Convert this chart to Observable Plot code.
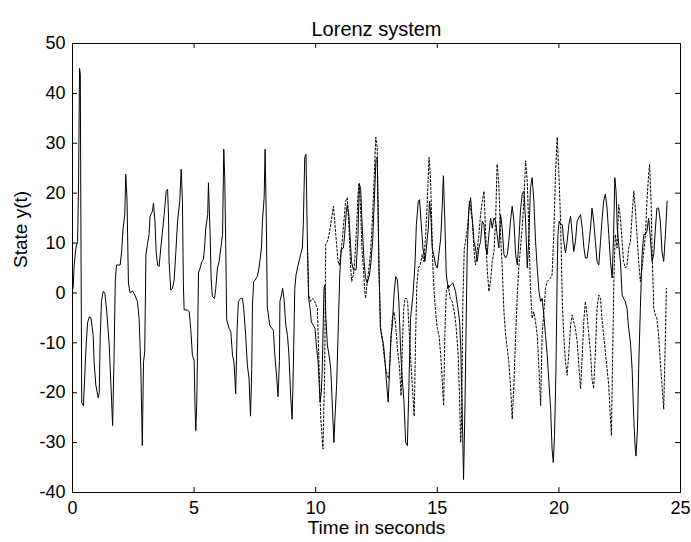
<!DOCTYPE html>
<html>
<head>
<meta charset="utf-8">
<script src="https://cdn.jsdelivr.net/npm/d3@7"></script>
<script src="https://cdn.jsdelivr.net/npm/@observablehq/plot@0.6"></script>
<style>
  html, body { margin: 0; padding: 0; background: #fff; }
  #chart svg { display: block; }
</style>
</head>
<body>
<div id="chart"></div>
<script>
// ---- Data (time in s, state y(t)) ----
const titleText = "Lorenz system";
const xLabel = "Time in seconds";
const yLabel = "State y(t)";
const xTicks = [0, 5, 10, 15, 20, 25];
const yTicks = [-40, -30, -20, -10, 0, 10, 20, 30, 40, 50];

// Common trajectory (both runs coincide until ~9.7 s)
const sharedPath = [
  [0.0,0.5],[0.03,1.3],[0.07,5.6],[0.14,9],[0.21,10.3],[0.25,22.4],[0.29,45],[0.32,44],[0.35,8.7],
  [0.38,-22],[0.45,-22.6],[0.51,-15.9],[0.56,-10.5],[0.62,-6],[0.69,-4.8],[0.76,-5],[0.85,-8.5],
  [0.89,-14],[0.96,-18.5],[1.06,-21],[1.10,-20],[1.14,-8.8],[1.19,-1.7],[1.26,0.3],[1.33,0],
  [1.41,-3.8],[1.51,-10.5],[1.58,-18.5],[1.65,-26.6],[1.71,-12.5],[1.76,2.6],[1.81,5.6],[1.96,5.6],
  [2.02,8.3],[2.08,13],[2.15,15.7],[2.19,23.8],[2.24,19],[2.30,2],[2.37,0],[2.47,0.4],[2.56,-0.4],
  [2.67,-1.7],[2.74,-5.1],[2.81,-15],[2.87,-30.6],[2.92,-13.8],[2.97,-11.8],[3.02,7.6],[3.08,9.7],
  [3.15,11.7],[3.19,15.4],[3.29,16.4],[3.33,18],[3.39,14.4],[3.44,8.3],[3.50,5.6],[3.56,5.3],
  [3.63,9],[3.77,15.7],[3.85,20.4],[3.91,20.8],[3.95,15],[3.97,6.3],[4.04,0.6],[4.11,0.9],
  [4.18,2.6],[4.25,8.3],[4.32,14.4],[4.41,18.4],[4.47,24.8],[4.52,18.4],[4.56,1.6],[4.59,-3.4],
  [4.73,-3.4],[4.80,-3.8],[4.86,-7.1],[4.93,-12.5],[5.00,-13.5],[5.04,-23.3],[5.07,-27.6],
  [5.11,-21.9],[5.15,-7.8],[5.18,4],[5.25,5],[5.32,6.3],[5.38,6.7],[5.43,9],[5.48,13],[5.56,15.7],
  [5.59,22.1],[5.66,11.7],[5.70,3],[5.75,-0.7],[5.84,-1.1],[5.89,0.9],[5.96,5],[6.03,6.3],[6.10,9],
  [6.17,11.7],[6.22,28.8],[6.26,23.1],[6.30,9.7],[6.34,-5.4],[6.44,-7.1],[6.51,-7.8],[6.58,-12.5],
  [6.64,-13.8],[6.71,-20.2],[6.77,-7.1],[6.82,-1.7],[6.92,-1.1],[6.99,-1.1],[7.04,-3.1],[7.12,-8.5],
  [7.19,-14.5],[7.26,-17.2],[7.32,-24.7],[7.37,-15.2],[7.40,-2.4],[7.45,2.3],[7.51,2.6],[7.60,3.3],
  [7.67,5],[7.77,9],[7.81,14.4],[7.88,19.1],[7.92,28.8],[7.97,14.4],[8.01,-2.8],[8.11,-6.5],
  [8.26,-7.5],[8.32,-12.5],[8.40,-17.2],[8.45,-20.8],[8.51,-13.5],[8.53,-1.7],[8.59,-0.4],
  [8.64,0.9],[8.70,-1.4],[8.77,-6.5],[8.84,-8.5],[8.90,-12.5],[8.97,-20.6],[9.03,-25.3],
  [9.08,-15.2],[9.14,0.9],[9.19,3.6],[9.25,5],[9.38,7.7],[9.45,9],[9.49,13.7],[9.55,27.2],
  [9.60,27.8],[9.66,9.7]
];

// Solid run after divergence
const solidPath = [
  [9.71,-1.1],[9.77,-3.1],[9.82,-5.8],[9.90,-6.5],[9.97,-7.1],[10.04,-11.2],[10.10,-13.8],
  [10.18,-21.9],[10.23,-19.9],[10.27,-15.2],[10.34,0.9],[10.38,1.6],[10.42,-5.1],[10.48,-10.5],
  [10.55,-12.5],[10.62,-15.2],[10.69,-23.3],[10.75,-30],[10.79,-25.3],[10.86,-18.5],[10.93,-6.5],
  [10.99,3.6],[11.05,8.7],[11.14,9],[11.19,11.7],[11.26,16.4],[11.30,17.7],[11.36,15.7],
  [11.41,11.7],[11.47,6.3],[11.55,4.6],[11.66,4.6],[11.74,11.7],[11.79,21.8],[11.85,21.0],
  [11.90,14.4],[11.99,6.3],[12.05,3],[12.12,2],[12.21,3.6],[12.26,5.6],[12.34,10.3],[12.42,19.8],
  [12.48,26.8],[12.53,27.2],[12.60,5.6],[12.66,-7.1],[12.71,-8.5],[12.79,-10.5],[12.85,-13.5],
  [12.90,-17.2],[12.98,-21.9],[13.04,-15.2],[13.10,-8.5],[13.15,-6.5],[13.22,-0.4],[13.29,3.3],
  [13.36,2.6],[13.42,-1.7],[13.49,-11.2],[13.56,-17.2],[13.63,-21.9],[13.70,-30],[13.77,-30.6],
  [13.83,-19.2],[13.90,-5.1],[14.00,-0.4],[14.08,5.6],[14.14,13.7],[14.22,18.4],[14.27,18.7],
  [14.33,14.4],[14.41,9],[14.49,6.3],[14.55,9],[14.63,13],[14.68,18.4],[14.74,15],[14.79,9],
  [14.88,7],[14.93,5.6],[15.00,5],[15.14,11],[15.20,17],[15.25,23.5],[15.31,14.4],[15.37,3.6],
  [15.45,0.9],[15.55,1.6],[15.64,2],[15.75,0.3],[15.83,-2.4],[15.92,-5.8],[15.97,-11.8],
  [16.03,-25.3],[16.08,-37.4],[16.14,-21.9],[16.19,-5.1],[16.23,8.3],[16.30,17],[16.37,19.1],
  [16.41,16.4],[16.46,13.7],[16.51,10.3],[16.57,9],[16.64,6.3],[16.71,9],[16.78,10.3],[16.85,14.4],
  [16.92,13.7],[16.99,9],[17.05,7.7],[17.12,11.7],[17.19,15],[17.26,13],[17.33,15],[17.40,14.4],
  [17.46,11.7],[17.53,9],[17.60,15.7],[17.67,13],[17.74,7.7],[17.81,7],[17.88,7.7],[17.94,10.3],
  [18.01,14.4],[18.08,17.4],[18.15,14.4],[18.22,7.7],[18.29,5.6],[18.35,10.3],[18.42,16.4],
  [18.49,19.8],[18.56,20.4],[18.63,14.4],[18.70,5],[18.77,11.7],[18.83,21.1],[18.90,23.1],
  [18.97,18.4],[19.04,10.3],[19.11,5],[19.18,0.3],[19.25,-1.7],[19.31,-1.1],[19.38,-4.4],
  [19.45,-8.5],[19.52,-12.5],[19.59,-17.9],[19.66,-23.3],[19.72,-31.3],[19.77,-34],[19.82,-28.6],
  [19.88,-15.2],[19.93,3.6],[19.96,11.7],[20.01,14.4],[20.07,13.7],[20.14,13.7],[20.20,10.3],
  [20.27,8],[20.34,10.3],[20.41,13.7],[20.48,15.4],[20.55,11.7],[20.61,8.3],[20.68,10.3],
  [20.75,14.4],[20.89,15.7],[20.96,13],[21.03,9],[21.09,7],[21.16,7],[21.23,9.7],[21.30,13],
  [21.36,17],[21.43,14.4],[21.50,10.3],[21.57,6.3],[21.64,5.6],[21.71,10.3],[21.77,14.4],
  [21.84,18.4],[21.91,19.8],[21.98,17],[22.05,11.7],[22.12,6.3],[22.19,3],[22.25,11.7],[22.30,23.1],
  [22.35,20.4],[22.40,13],[22.46,9.7],[22.53,6.3],[22.60,-0.4],[22.66,-1.1],[22.73,-1.7],
  [22.80,-3.1],[22.87,-7.1],[22.94,-9.8],[23.01,-15.2],[23.08,-25.3],[23.14,-31.3],[23.17,-32.7],
  [23.23,-27.3],[23.28,-15.2],[23.35,-3.1],[23.42,7.7],[23.49,11.7],[23.56,11.7],[23.62,12.4],
  [23.69,15],[23.76,11],[23.83,6.3],[23.90,7.7],[23.97,13],[24.03,17],[24.10,17],[24.17,14.4],
  [24.24,8.3],[24.31,6.3],[24.38,11.7],[24.45,18.4]
];

// Dotted run after divergence
const dottedPath = [
  [9.66,9.7],[9.71,-0.4],[9.79,-1.7],[9.88,-1.1],[9.96,-1.7],[10.07,-3.1],[10.14,-15.2],[10.21,-25.3],
  [10.30,-31.3],[10.37,-15.2],[10.41,9.7],[10.48,10.3],[10.55,11.7],[10.64,14.4],[10.73,17.4],
  [10.78,14.4],[10.85,10.3],[10.92,6.3],[10.97,5.6],[11.03,7.7],[11.10,11],[11.16,14.4],
  [11.23,18.4],[11.30,19.1],[11.37,13],[11.44,5],[11.48,2.3],[11.55,3.6],[11.60,6.3],[11.68,13],
  [11.74,19.8],[11.79,22.1],[11.85,16.4],[11.90,9],[11.96,5],[12.01,0.9],[12.05,-1.1],[12.12,2.3],
  [12.19,5],[12.26,8.3],[12.33,14.4],[12.40,22.4],[12.47,31.2],[12.53,29.2],[12.60,5],[12.67,-7.1],
  [12.74,-9.1],[12.81,-12.5],[12.88,-15.2],[12.94,-16.5],[13.01,-17.2],[13.08,-10.5],[13.15,-5.1],
  [13.22,-3.8],[13.29,-6.5],[13.36,-11.2],[13.45,-15.2],[13.51,-20.6],[13.56,-11.2],[13.62,-3.1],
  [13.67,-1.1],[13.73,-1.1],[13.78,-1.7],[13.83,-6.5],[13.90,-12.5],[13.97,-18.5],[14.05,-24.7],
  [14.11,-8.5],[14.16,1.6],[14.22,5],[14.30,5.6],[14.38,7.7],[14.45,6.3],[14.52,11.7],[14.59,18.4],
  [14.66,27.2],[14.72,23.1],[14.77,14.4],[14.82,5],[14.87,0.3],[14.93,-3.8],[15.00,-7.1],
  [15.07,-8.5],[15.14,-12.5],[15.20,-17.2],[15.26,-22.6],[15.31,-8.5],[15.37,0.3],[15.45,1.6],
  [15.53,-1.1],[15.61,-1.7],[15.70,-3.8],[15.78,-7.1],[15.86,-12.5],[15.92,-21.9],[15.96,-30],
  [16.00,-25.3],[16.05,-1.7],[16.11,9],[16.16,10.3],[16.24,13],[16.33,18.4],[16.38,16.4],
  [16.44,14.4],[16.52,7.7],[16.57,5.6],[16.64,8.3],[16.71,11.7],[16.78,15.7],[16.85,18.4],
  [16.92,20.4],[16.99,11.7],[17.05,5],[17.12,0.3],[17.19,2.3],[17.26,6.3],[17.33,8.3],[17.40,15],
  [17.46,25.8],[17.53,21.8],[17.60,11.7],[17.67,5],[17.74,-3.8],[17.81,-8.5],[17.88,-11.2],
  [17.94,-13.8],[18.01,-18.5],[18.08,-25.3],[18.15,-18.5],[18.22,-8.5],[18.29,-0.4],[18.35,5],
  [18.42,9],[18.49,13],[18.56,18.4],[18.63,26.5],[18.70,22.4],[18.77,11.7],[18.83,0.9],[18.90,-5.1],
  [18.97,-3.8],[19.04,-5.8],[19.11,-8.5],[19.18,-15.2],[19.25,-22.6],[19.31,-8.5],[19.38,-3.8],
  [19.45,0.9],[19.52,2.3],[19.66,3],[19.72,3.6],[19.79,11.7],[19.86,23.8],[19.93,31.2],[19.99,25.1],
  [20.07,14.4],[20.14,-1.7],[20.20,-8.5],[20.27,-13.8],[20.34,-16.5],[20.41,-11.8],[20.48,-6.5],
  [20.55,-4.4],[20.61,-5.8],[20.68,-7.1],[20.75,-9.8],[20.82,-14.5],[20.89,-19.2],[20.96,-12.5],
  [21.03,-5.1],[21.09,-1.7],[21.16,-4.5],[21.23,-8.5],[21.30,-11.8],[21.36,-17.2],[21.43,-19.2],
  [21.50,-11.8],[21.57,-3.1],[21.64,-0.4],[21.71,-1.1],[21.77,-5.1],[21.84,-8.5],[21.91,-11.8],
  [21.98,-15.2],[22.05,-18.5],[22.12,-25.3],[22.16,-28.6],[22.21,-12.5],[22.27,5],[22.32,11.7],
  [22.39,9],[22.46,17.7],[22.53,15],[22.60,10.3],[22.66,6.3],[22.73,5],[22.80,5.6],[22.87,9],
  [22.94,10.3],[23.01,15.7],[23.08,20.4],[23.14,17],[23.21,11.7],[23.28,6.3],[23.35,2.3],
  [23.42,5],[23.49,8.3],[23.56,11.7],[23.62,18.4],[23.69,23.8],[23.73,25.8],[23.79,18.4],
  [23.83,9],[23.90,-3.1],[23.97,-4.5],[24.03,-5.1],[24.10,-8.5],[24.17,-13.8],[24.24,-18.5],
  [24.31,-23.3],[24.38,-8.5],[24.42,0.9]
];

// ---- Build tables ----
const toRows = (arr) => arr.map(([t, y]) => ({t, y}));
const solidRows = toRows(sharedPath.concat(solidPath));
const dottedRows = toRows(dottedPath);

const [xMin, xMax] = d3.extent(xTicks);
const [yMin, yMax] = d3.extent(yTicks);
const xTickLen = (xMax - xMin) * 0.0082;  // ~5px inward in data units
const yTickLen = (yMax - yMin) * 0.011;

const font = "'Liberation Sans', Arial, Helvetica, sans-serif";
const plainFormat = (d) => String(d);   // ASCII hyphen for negatives, as in the reference

const chart = Plot.plot({
  width: 691,
  height: 542,
  marginLeft: 72,
  marginRight: 11,
  marginTop: 43,
  marginBottom: 50,
  style: {fontFamily: font, fontSize: "18px", color: "black", background: "white"},
  x: {domain: [xMin, xMax], ticks: xTicks, label: null},
  y: {domain: [yMin, yMax], ticks: yTicks, label: null},
  marks: [
    Plot.line(dottedRows, {x: "t", y: "y", stroke: "black", strokeWidth: 1, strokeDasharray: "2,2"}),
    Plot.line(solidRows, {x: "t", y: "y", stroke: "black", strokeWidth: 1}),
    Plot.frame({stroke: "black", strokeWidth: 1}),
    // inward ticks on all four sides
    Plot.ruleX(xTicks.slice(1, -1), {x: d => d, y1: yMin, y2: yMin + yTickLen, stroke: "black"}),
    Plot.ruleX(xTicks.slice(1, -1), {x: d => d, y1: yMax, y2: yMax - yTickLen, stroke: "black"}),
    Plot.ruleY(yTicks.slice(1, -1), {y: d => d, x1: xMin, x2: xMin + xTickLen, stroke: "black"}),
    Plot.ruleY(yTicks.slice(1, -1), {y: d => d, x1: xMax, x2: xMax - xTickLen, stroke: "black"}),
    Plot.axisX(xTicks, {tickSize: 0, tickPadding: 9, fontSize: 18, label: null, tickFormat: plainFormat}),
    Plot.axisY(yTicks, {tickSize: 0, tickPadding: 7, fontSize: 18, label: null, tickFormat: plainFormat}),
    Plot.text([titleText], {frameAnchor: "top", dy: -22, fontSize: 20, fill: "black"}),
    Plot.text([xLabel], {frameAnchor: "bottom", dy: 41, fontSize: 19, fill: "black"}),
    Plot.text([yLabel], {frameAnchor: "left", dx: -52, rotate: -90, fontSize: 19, fill: "black"})
  ]
});

document.getElementById("chart").appendChild(chart);
</script>
</body>
</html>
